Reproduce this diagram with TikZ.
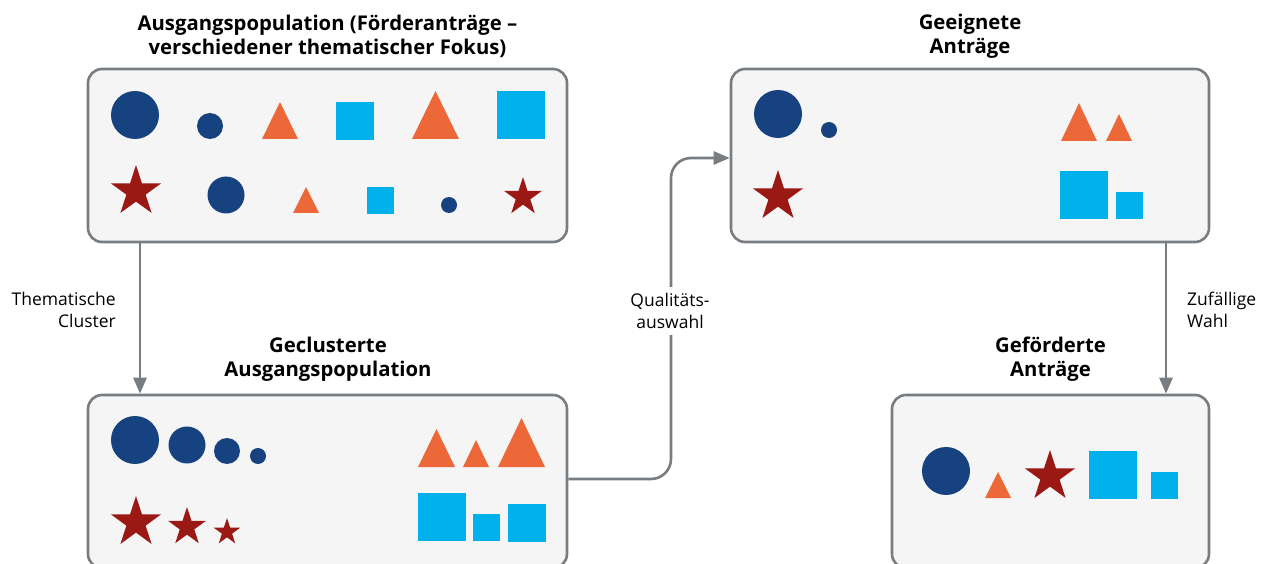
\documentclass[tikz,border=0pt]{standalone}
\usepackage{fontspec}
\setmainfont{Open Sans}
\usetikzlibrary{arrows.meta}
\definecolor{cblue}{HTML}{174280}
\definecolor{corange}{HTML}{EC6839}
\definecolor{ccyan}{HTML}{00B1EB}
\definecolor{cred}{HTML}{9A1915}
\definecolor{cgray}{HTML}{787D82}
\definecolor{cfill}{HTML}{F5F5F5}
\newcommand\mycirc[3]{\fill[cblue] (#1,#2) circle[radius=#3];}
\newcommand\mytri[4]{\fill[corange] ({#1-#3/2},#2) -- ({#1+#3/2},#2) -- (#1,{#2-#4}) -- cycle;}
\newcommand\mysq[4]{\fill[ccyan] (#1,#2) rectangle (#3,#4);}
\newcommand\mystar[3]{\fill[cred] (#1,#2) +(-90:#3) -- +(-54:{#3*0.382}) -- +(-18:#3) -- +(18:{#3*0.382}) -- +(54:#3) -- +(90:{#3*0.382}) -- +(126:#3) -- +(162:{#3*0.382}) -- +(198:#3) -- +(234:{#3*0.382}) -- cycle;}
\tikzset{
  box/.style={draw=cgray, fill=cfill, line width=2.6pt, rounded corners=14pt, inner sep=0pt},
  conn/.style={draw=cgray, line width=2.6pt, -{Triangle[width=13pt,length=16pt]}},
  ttl/.style={font=\bfseries\fontsize{20.3}{24}\selectfont, align=center, inner sep=0pt},
  lbl/.style={font=\fontsize{17.5}{22.5}\selectfont, inner sep=0pt},
}
\begin{document}
\begin{tikzpicture}[x=1pt,y=-1pt]
\useasboundingbox (0,0) rectangle (1267,564);
% boxes
\node[box, minimum width=479pt, minimum height=173pt] (b1) at (327.5,155.5) {};
\node[box, minimum width=479pt, minimum height=173pt] (b2) at (327.5,481.5) {};
\node[box, minimum width=478pt, minimum height=173pt] (b3) at (970,155.5) {};
\node[box, minimum width=317pt, minimum height=173pt] (b4) at (1050.5,481.5) {};
% titles
\node[ttl] (t1) at (327.5,36.5) {Ausgangspopulation (Förderanträge –\\verschiedener thematischer Fokus)};
\node[ttl] (t2) at (328,359.5) {Geclusterte\\Ausgangspopulation};
\node[ttl] (t3) at (970,36.5) {Geeignete\\Anträge};
\node[ttl] (t4) at (1050.5,359.5) {Geförderte\\Anträge};
% connectors
\coordinate (c1) at (140,0);
\coordinate (c3) at (1166,0);
\coordinate (q) at (671,479);
\coordinate (r) at (671,158);
\draw[conn] (b1.south -| c1) -- (b2.north -| c1);
\draw[conn] (b3.south -| c3) -- (b4.north -| c3);
\draw[conn, rounded corners=20pt] (b2.east |- q) -- (q) -- (r) -- (b3.west |- r);
% labels
\node[lbl, align=right, anchor=east] (l1) at (116,310) {Thematische\\Cluster};
\node[lbl, align=left, anchor=west] (l3) at (1187,310) {Zufällige\\Wahl};
\node[lbl, align=center, fill=white, inner sep=6pt] (l2) at (670,311) {Qualitäts-\\auswahl};
% box 1 shapes
\mycirc{135}{115}{24}
\mycirc{210}{126}{13}
\mytri{280}{139}{36}{37}
\mysq{336}{102}{374}{140}
\mytri{435.5}{139}{47}{48}
\mysq{497}{91}{545}{139}
\mystar{136}{191.5}{26.5}
\mycirc{226}{195}{18.5}
\mytri{306}{213}{26}{26}
\mysq{367}{187}{394}{214}
\mycirc{449}{205}{8}
\mystar{523}{197}{20}
% box 2 shapes
\mycirc{135}{440}{24}
\mycirc{187}{445}{18.5}
\mycirc{227}{451}{13}
\mycirc{258}{456}{8}
\mystar{136}{522.5}{26.5}
\mystar{187}{527}{20}
\mystar{227}{532}{14}
\mytri{436.5}{467}{37}{38}
\mytri{476}{467}{26}{27}
\mytri{521.5}{467}{47}{49}
\mysq{418}{493}{466}{541}
\mysq{473}{514}{500}{541}
\mysq{508}{504}{546}{542}
% box 3 shapes
\mycirc{778}{114}{24}
\mycirc{829}{130}{8}
\mystar{778}{196.5}{26.5}
\mytri{1079}{141}{36}{38}
\mytri{1119}{141}{26}{27}
\mysq{1060}{171}{1108}{219}
\mysq{1116}{192}{1143}{219}
% box 4 shapes
\mycirc{946}{471}{24}
\mytri{998}{498}{26}{26}
\mystar{1050}{476.5}{26.5}
\mysq{1089}{451}{1137}{499}
\mysq{1151}{472}{1178}{499}
\end{tikzpicture}
\end{document}
